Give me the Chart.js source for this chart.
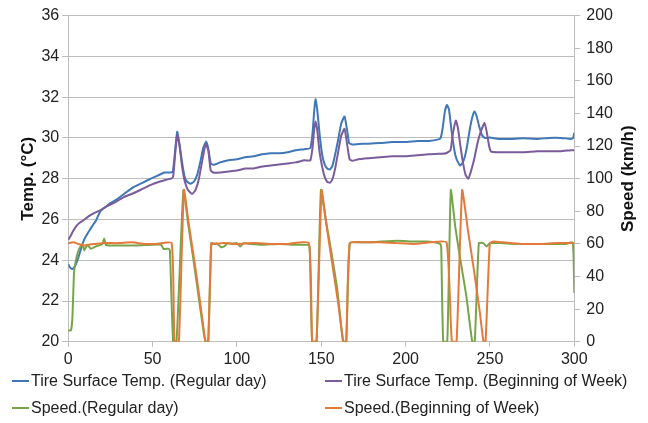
<!DOCTYPE html>
<html lang="en">
<head>
  <meta charset="UTF-8" />
  <title>Tire Surface Temp. and Speed</title>
  <script src="https://cdn.jsdelivr.net/npm/chart.js"></script>
  <style>
    body { margin: 0; background: #fff; font-family: "Liberation Sans", Arial, sans-serif; }
    #wrap { position: relative; width: 648px; height: 423px; }
    #legend { position: absolute; left: 0; top: 372px; width: 648px; font-size: 16px; color: #222; }
    .item { position: absolute; display: flex; align-items: center; white-space: nowrap; }
    .item span.mark { display: inline-block; width: 17px; height: 2px; margin-right: 2px; }
  </style>
</head>
<body>
  <div id="wrap">
    <canvas id="chart"></canvas>
    <div id="legend"></div>
  </div>

  <script>
    // Tire surface temperature, regular day (degC)
    const tempRegX = [0, 1, 2.5, 4, 5.5, 7, 8.5, 10, 12.5, 14,
      16.5, 19, 22, 25, 29, 33, 39, 44, 49, 53,
      57, 60.5, 62, 63.3, 64.6, 66, 67.5, 69, 70.5, 72.5,
      74.5, 76.5, 78.5, 80, 81.8, 83, 84.5, 86.3, 90, 95,
      100, 105, 110, 115, 120, 125, 130, 135, 140, 143.5,
      144.8, 145.8, 146.6, 147.6, 149, 150.5, 152, 153.5, 155, 156.5,
      158, 160, 161.8, 163.8, 165.3, 166.5, 168.3, 172, 178, 185,
      192, 200, 207, 214, 219.5, 220.8, 222, 223.3, 224.5, 225.7,
      227, 228.5, 230, 232.2, 234, 236, 238, 239.5, 240.8, 242,
      243.5, 245.4, 247, 250, 255, 262, 270, 278, 285, 292,
      298, 299.3, 300];
    const tempReg = [23.8, 23.65, 23.57, 23.7, 24.0, 24.4, 24.8, 25.1, 25.45, 25.65,
      25.95, 26.4, 26.6, 26.8, 27.0, 27.25, 27.6, 27.8, 28.0, 28.15,
      28.3, 28.3, 28.35, 29.3, 30.3, 29.7, 28.8, 28.1, 27.85, 27.75,
      27.85, 28.2, 28.9, 29.5, 29.83, 29.5, 28.75, 28.68, 28.8, 28.9,
      28.95, 29.05, 29.1, 29.2, 29.25, 29.25, 29.3, 29.4, 29.45, 29.5,
      30.2, 31.3, 31.9, 31.4, 30.2, 29.2, 28.7, 28.5, 28.45, 28.6,
      29.1, 29.9, 30.7, 31.05, 30.4, 29.75, 29.68, 29.7, 29.72, 29.75,
      29.8, 29.8, 29.85, 29.85, 29.93, 30.0, 30.5, 31.3, 31.62, 31.4,
      30.5, 29.6, 29.0, 28.65, 28.8, 29.4, 30.4, 31.0, 31.3, 31.1,
      30.6, 30.12, 30.0, 30.02, 29.95, 29.95, 29.98, 29.95, 30.0, 30.0,
      29.95, 30.0, 30.25];

    // Tire surface temperature, beginning of week (degC)
    const tempWeekX = [0, 1.5, 3, 5, 7, 9, 12, 15, 19, 23,
      28, 33, 39, 44, 49, 54, 58, 61, 62.2, 63.5,
      64.6, 66, 67.5, 69, 71, 73.5, 75.5, 77.5, 79.5, 81.5,
      83, 84.5, 86.3, 90, 95, 100, 105, 110, 115, 120,
      125, 130, 135, 140, 143.5, 144.8, 145.8, 146.6, 147.6, 149,
      150.5, 152, 153.5, 155.1, 156.5, 158, 160, 161.8, 163.8, 165.3,
      166.8, 168.3, 172, 178, 185, 192, 200, 207, 214, 220,
      224, 226.6, 228, 229.8, 231, 232.5, 234, 235.5, 237.1, 238.5,
      240.5, 242.5, 244.5, 246.8, 248.3, 249.5, 250.7, 255, 262, 270,
      278, 285, 292, 298, 300];
    const tempWeek = [25.0, 25.2, 25.45, 25.7, 25.85, 25.95, 26.15, 26.3, 26.45, 26.65,
      26.85, 27.1, 27.3, 27.5, 27.7, 27.85, 27.95, 28.0, 28.1, 29.3,
      30.15, 29.6, 28.6, 27.9, 27.45, 27.25, 27.45, 28.0, 28.9, 29.7,
      29.4, 28.4, 28.29, 28.3, 28.35, 28.4, 28.5, 28.5, 28.6, 28.65,
      28.7, 28.75, 28.8, 28.9, 28.9, 29.5, 30.4, 30.81, 30.4, 29.3,
      28.6, 28.1, 27.85, 27.8, 27.95, 28.4, 29.3, 30.1, 30.45, 29.7,
      28.95, 28.88, 28.95, 29.0, 29.05, 29.1, 29.1, 29.15, 29.2, 29.22,
      29.25, 29.4, 30.2, 30.85, 30.5, 29.6, 28.8, 28.2, 28.0, 28.3,
      28.9, 29.7, 30.3, 30.74, 30.2, 29.6, 29.33, 29.3, 29.3, 29.3,
      29.35, 29.35, 29.35, 29.4, 29.4];

    // Speed, regular day (km/h)
    const speedRegX = [0, 1.6, 2.5, 3.5, 5, 6.5, 8.5, 9.5, 11.4, 13.4,
      16.4, 20.3, 21.3, 22.3, 25, 30, 40, 50, 55, 56.5,
      59.5, 60.3, 62.2, 64.2, 68.3, 71, 74, 77, 80, 81.4,
      83, 84.8, 86, 88, 90.5, 92.5, 94.5, 97, 100, 102,
      104, 108, 115, 125, 135, 142.6, 143.2, 144.6, 147.2, 149.8,
      152.5, 156, 159.5, 163, 164.8, 166.9, 172, 180, 186, 195,
      205, 212, 217, 220.5, 221.1, 222.3, 224.7, 226.8, 229.5, 232.5,
      236, 239.5, 241, 243.4, 246, 248, 250, 256, 265, 275,
      285, 295, 298.8, 299.5, 300];
    const speedReg = [7, 7, 15, 42.8, 52, 57, 60, 56, 59.5, 57,
      58.5, 60, 63.3, 59.5, 59, 59, 59, 59.5, 59.5, 57,
      57, 56, 0, 0, 93, 73, 52, 30, 8, 0,
      0, 60, 60, 60.5, 58, 58.5, 60.5, 60, 60.5, 58.5,
      60.5, 60, 59.5, 60, 59.5, 59.5, 58, 0, 0, 93,
      76, 55, 32, 0, 0, 60.5, 61, 61, 61.5, 62,
      61.5, 61.5, 61, 60, 58, 0, 0, 93, 70, 50,
      28, 0, 0, 60.5, 60.5, 58.5, 60.5, 60.5, 60, 60,
      60, 60, 61, 55, 30];

    // Speed, beginning of week (km/h)
    const speedWeekX = [0, 3, 6, 9, 12, 16, 20, 30, 38, 45,
      52, 61.3, 63, 65.6, 68.6, 71.5, 75, 78.5, 81.4, 83,
      84.8, 87, 92, 100, 110, 120, 130, 142.6, 144.6, 147.2,
      150.2, 153, 156.5, 160, 163, 164.8, 166.9, 175, 185, 195,
      205, 215, 224.3, 227.4, 230.2, 233.5, 237, 240.5, 244, 246.2,
      247.4, 249.9, 252, 258, 268, 280, 290, 300];
    const speedWeek = [60.5, 61, 60, 59, 59.5, 60, 60.5, 60.5, 61, 60,
      60, 60.5, 0, 0, 93, 72, 48, 22, 0, 0,
      60.5, 60, 60.5, 60, 60.5, 60, 60, 60.5, 0, 0,
      93, 72, 48, 24, 0, 0, 60.5, 61, 61, 60.5,
      60, 61, 61, 0, 0, 93, 68, 44, 18, 0,
      0, 60.5, 61.5, 61, 60, 60, 60.5, 60.5];

    const labels = [
      'Tire Surface Temp. (Regular day)',
      'Tire Surface Temp. (Beginning of Week)',
      'Speed.(Regular day)',
      'Speed.(Beginning of Week)'
    ];
    const colors = ['#4077b6', '#7a5b9c', '#76a549', '#e37a3b'];

    function pts(xs, ys) {
      return xs.map((x, i) => ({ x: x, y: ys[i] }));
    }

    const gridColor = '#bdbdbd';
    const tickFont = { family: 'Liberation Sans', size: 16 };
    const titleFont = { family: 'Liberation Sans', size: 17, weight: 'bold' };

    // right axis title reads bottom-to-top like the left one
    const rightTitle = {
      id: 'rightTitle',
      afterDraw(chart) {
        const s = chart.scales.yS;
        const c = chart.ctx;
        c.save();
        c.translate(628, (s.top + s.bottom) / 2);
        c.rotate(-Math.PI / 2);
        c.font = 'bold 17px "Liberation Sans"';
        c.fillStyle = '#111';
        c.textAlign = 'center';
        c.textBaseline = 'middle';
        c.fillText('Speed (km/h)', 0, 0);
        c.restore();
      }
    };

    const ctx = document.getElementById('chart').getContext('2d');
    new Chart(ctx, {
      type: 'line',
      data: {
        datasets: [
          { label: labels[0], data: pts(tempRegX, tempReg), yAxisID: 'yT', borderColor: colors[0], order: 3 },
          { label: labels[1], data: pts(tempWeekX, tempWeek), yAxisID: 'yT', borderColor: colors[1], order: 2 },
          { label: labels[2], data: pts(speedRegX, speedReg), yAxisID: 'yS', borderColor: colors[2], order: 1 },
          { label: labels[3], data: pts(speedWeekX, speedWeek), yAxisID: 'yS', borderColor: colors[3], order: 0 }
        ]
      },
      options: {
        responsive: true,
        maintainAspectRatio: false,
        animation: false,
        elements: {
          point: { radius: 0 },
          line: { borderWidth: 2, tension: 0.15, fill: false }
        },
        layout: { padding: { left: 18, right: 29, top: 3, bottom: 51 } },
        plugins: { legend: { display: false }, tooltip: { enabled: false } },
        scales: {
          x: {
            type: 'linear',
            min: 0, max: 300,
            ticks: { stepSize: 50, font: tickFont, color: '#222', padding: 3, maxRotation: 0 },
            grid: { drawOnChartArea: false, color: gridColor, tickLength: 5 },
            border: { color: gridColor }
          },
          yT: {
            position: 'left',
            min: 20, max: 36,
            ticks: { stepSize: 2, font: tickFont, color: '#222', padding: 3 },
            grid: { color: gridColor, tickLength: 6 },
            border: { color: gridColor },
            title: { display: true, text: 'Temp. (°C)', font: titleFont, color: '#111', padding: { top: 0, bottom: 0 } }
          },
          yS: {
            position: 'right',
            min: 0, max: 200,
            ticks: { stepSize: 20, font: tickFont, color: '#222', padding: 6 },
            grid: { drawOnChartArea: false, color: gridColor, tickLength: 6 },
            border: { color: gridColor }
          }
        }
      },
      plugins: [rightTitle]
    });

    // two-column legend below the plot
    const legend = document.getElementById('legend');
    const spots = [[12, 0], [325, 0], [12, 27], [325, 27]];
    labels.forEach((t, i) => {
      const d = document.createElement('div');
      d.className = 'item';
      d.style.left = spots[i][0] + 'px';
      d.style.top = spots[i][1] + 'px';
      d.innerHTML = '<span class="mark" style="background:' + colors[i] + '"></span>' + t;
      legend.appendChild(d);
    });
  </script>
</body>
</html>
